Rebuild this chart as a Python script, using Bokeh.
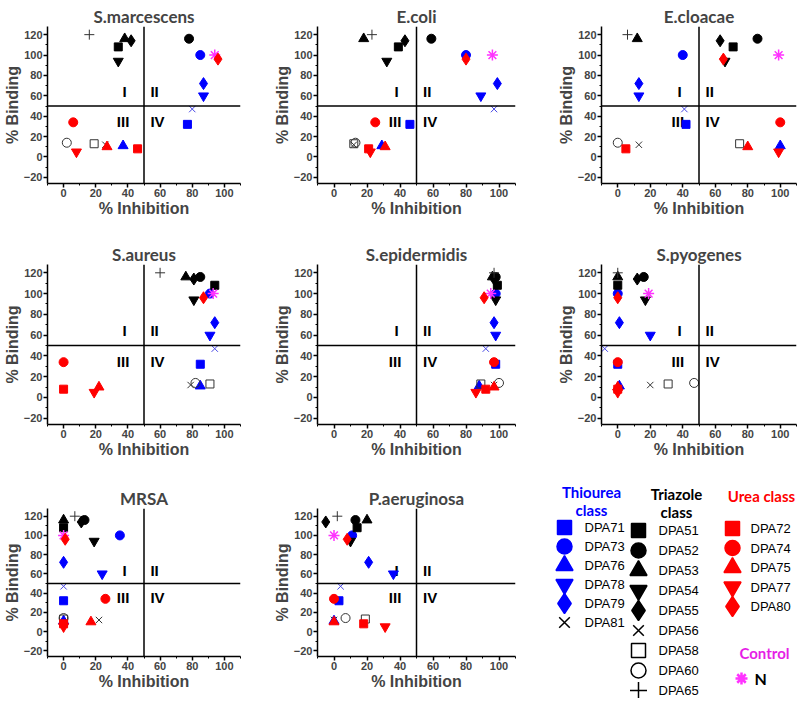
from bokeh.plotting import figure
from bokeh.layouts import row, column
from bokeh.models import Range1d, SingleIntervalTicker, Span, ColumnDataSource
from bokeh.core.properties import value
from bokeh.embed import file_html
from bokeh.resources import INLINE

# ---------------- data ----------------
panel_titles = ["S.marcescens", "E.coli", "E.cloacae", "S.aureus", "S.epidermidis",
                "S.pyogenes", "MRSA", "P.aeruginosa"]

compounds = ["DPA71", "DPA73", "DPA76", "DPA78", "DPA79", "DPA81",
             "DPA51", "DPA52", "DPA53", "DPA54", "DPA55", "DPA56", "DPA58", "DPA60", "DPA65",
             "DPA72", "DPA74", "DPA75", "DPA77", "DPA80",
             "N"]
compound_class = ["Thiourea"] * 6 + ["Triazole"] * 9 + ["Urea"] * 5 + ["Control"]

# % Binding of each compound
binding = [32, 100, 11, 60, 72, 47,
           108, 116, 116, 94, 114, 12, 13, 14, 120,
           8, 34, 10, 5, 96,
           100]

# % Inhibition of each compound, per organism
inhibition_s_marcescens = [77, 85, 37, 87, 87, 80, 34, 78, 38, 34, 42, 26, 19, 2, 16, 46, 6, 27, 8, 96, 94]
inhibition_e_coli = [46, 80, 29, 89, 99, 97, 39, 59, 18, 32, 43, 12, 12, 13, 23, 21, 25, 31, 22, 80, 96]
inhibition_e_cloacae = [42, 40, 100, 13, 13, 41, 71, 86, 12, 66, 63, 13, 75, 0, 6, 5, 100, 80, 99, 65, 99]
inhibition_s_aureus = [85, 91, 85, 91, 94, 94, 94, 85, 76, 81, 81, 79, 91, 82, 60, 0, 0, 22, 19, 87, 93]
inhibition_s_epidermidis = [98, 98, 88, 98, 97, 92, 99, 98, 96, 98, 97, 97, 89, 100, 97, 92, 97, 97, 86, 91, 95]
inhibition_s_pyogenes = [0, 0, 1, 20, 1, -8, 0, 16, 0, 17, 12, 20, 31, 47, 0, 0, 0, 0, 0, 0, 19]
inhibition_mrsa = [0, 35, 0, 24, 0, 0, 0, 13, 0, 19, 11, 22, 0, 0, 7, 0, 26, 17, 0, 1, 0]
inhibition_p_aeruginosa = [3, 11, 0, 36, 21, 4, 14, 13, 20, 10, -5, 0, 19, 7, 2, 18, 0, 0, 31, 8, 0]

inhibitions = [inhibition_s_marcescens, inhibition_e_coli, inhibition_e_cloacae,
               inhibition_s_aureus, inhibition_s_epidermidis, inhibition_s_pyogenes,
               inhibition_mrsa, inhibition_p_aeruginosa]

quadrant_labels = ["I", "II", "III", "IV"]
x_ticks_interval = 20
y_ticks_interval = 20

# ---------------- styles ----------------
BLUE = "#0000FF"
RED = "#FF0000"
BLACK = "#000000"
GRAY = "#333333"
MAG = "#FF33FF"

# marker, fill, line, line_width, size(panel), size(legend)
style = {
    "DPA71": ("square", BLUE, BLUE, 1, 8, 14),
    "DPA73": ("circle", BLUE, BLUE, 1, 9, 15),
    "DPA76": ("triangle", BLUE, BLUE, 1, 10, 17),
    "DPA78": ("inverted_triangle", BLUE, BLUE, 1, 10, 17),
    "DPA79": ("diamond", BLUE, BLUE, 1, 12, 20),
    "DPA81": ("x", None, "#4646E6", 1, 9, 15),
    "DPA51": ("square", BLACK, BLACK, 1, 8, 14),
    "DPA52": ("circle", BLACK, BLACK, 1, 9, 15),
    "DPA53": ("triangle", BLACK, BLACK, 1, 10, 17),
    "DPA54": ("inverted_triangle", BLACK, BLACK, 1, 10, 17),
    "DPA55": ("diamond", BLACK, BLACK, 1, 12, 20),
    "DPA56": ("x", None, GRAY, 1, 9, 15),
    "DPA58": ("square", None, GRAY, 1, 8, 14),
    "DPA60": ("circle", None, GRAY, 1, 9, 15),
    "DPA65": ("cross", None, GRAY, 1, 10, 17),
    "DPA72": ("square", RED, RED, 1, 8, 14),
    "DPA74": ("circle", RED, RED, 1, 9, 15),
    "DPA75": ("triangle", RED, RED, 1, 10, 17),
    "DPA77": ("inverted_triangle", RED, RED, 1, 10, 17),
    "DPA80": ("diamond", RED, RED, 1, 12, 20),
    "N": ("asterisk", None, MAG, 1.5, 11, 12),
}

draw_order = ["Thiourea", "Triazole", "Control", "Urea"]

AXFONT = "Liberation Sans"
TITLE_FONT = "Lato"

col_w = [270, 284, 244]
col_bl = [47, 47, 47]
col_br = [30, 39, 2]
row_h = [238, 244, 216]
row_bt = [26, 26, 26]
row_bb = [55, 58, 42]


def make_panel(i, title, xs):
    r, c = divmod(i, 3)
    p = figure(width=col_w[c], height=row_h[r],
               x_range=Range1d(-10, 110), y_range=Range1d(-26, 128),
               output_backend="svg", toolbar_location=None,
               min_border_left=col_bl[c], min_border_right=col_br[c],
               min_border_top=row_bt[r], min_border_bottom=row_bb[r],
               title=title)
    p.title.align = "center"
    p.title.text_font = TITLE_FONT
    p.title.text_font_size = "17px"
    p.title.text_font_style = "bold"
    p.title.standoff = 0
    p.outline_line_color = None
    p.grid.visible = False
    p.background_fill_color = "white"

    p.xaxis.ticker = SingleIntervalTicker(interval=x_ticks_interval, num_minor_ticks=2)
    p.yaxis.ticker = SingleIntervalTicker(interval=y_ticks_interval, num_minor_ticks=2)
    for ax in (p.xaxis[0], p.yaxis[0]):
        ax.axis_line_width = 1.5
        ax.major_tick_line_width = 1.5
        ax.minor_tick_line_width = 1
        ax.major_tick_in = 0
        ax.major_tick_out = 4
        ax.minor_tick_in = 0
        ax.minor_tick_out = 2
        ax.major_label_text_font = AXFONT
        ax.major_label_text_font_style = "bold"
        ax.major_label_text_font_size = "11px"
        ax.major_label_standoff = 1
        ax.axis_label_text_font = AXFONT
        ax.axis_label_text_font_style = "bold"
        ax.axis_label_text_font_size = "16px"
        ax.axis_label_standoff = 0
    p.xaxis.axis_label = "% Inhibition"
    p.yaxis.axis_label = "% Binding"

    p.add_layout(Span(location=50, dimension="height", line_color="black", line_width=1.5))
    p.add_layout(Span(location=50, dimension="width", line_color="black", line_width=1.5))

    p.text(x=[38, 37], y=[64, 35], text=[quadrant_labels[0], quadrant_labels[2]],
           text_align="center", text_baseline="middle",
           text_font=value("Liberation Sans"), text_font_style="bold", text_font_size="15px")
    p.text(x=[54, 54], y=[64, 35], text=[quadrant_labels[1], quadrant_labels[3]],
           text_align="left", text_baseline="middle",
           text_font=value("Liberation Sans"), text_font_style="bold", text_font_size="15px")

    data = dict(x=[], y=[], marker=[], fill=[], line=[], lw=[], size=[])
    for cls in draw_order:
        for k, name in enumerate(compounds):
            if compound_class[k] != cls:
                continue
            m, f, l, lw, s, _ = style[name]
            data["x"].append(xs[k])
            data["y"].append(binding[k])
            data["marker"].append(m)
            data["fill"].append(f if f else "rgba(0,0,0,0)")
            data["line"].append(l)
            data["lw"].append(lw)
            data["size"].append(s)
    src = ColumnDataSource(data)
    p.scatter(x="x", y="y", marker="marker", size="size", fill_color="fill",
              line_color="line", line_width="lw", source=src)
    return p


panels = [make_panel(i, t, xs) for i, (t, xs) in enumerate(zip(panel_titles, inhibitions))]

# ---------------- legend panel ----------------
LW, LH = col_w[2], row_h[2]
leg = figure(width=LW, height=LH, x_range=Range1d(0, LW), y_range=Range1d(LH, 0),
             output_backend="svg", toolbar_location=None,
             min_border_left=0, min_border_right=0, min_border_top=0, min_border_bottom=0,
             x_axis_location=None, y_axis_location=None)
leg.frame_align = False
leg.grid.visible = False
leg.outline_line_color = None

headers = [("Thiourea", 37, 9, BLUE), ("class", 37, 27, BLUE),
           ("Triazole", 122, 11, BLACK), ("class", 122, 29, BLACK),
           ("Urea class", 207, 13, RED), ("Control", 210, 170, "#E61EE6")]
for txt, hx, hy, col in headers:
    leg.text(x=[hx], y=[hy], text=[txt], text_align="center", text_baseline="middle",
             text_font=value(TITLE_FONT), text_font_style="bold", text_font_size="15px",
             text_color=col)

columns_cfg = {"Thiourea": (10, 30, 45, 19.0),
               "Triazole": (84, 104, 48, 20.0),
               "Urea": (178, 196, 46, 19.5)}
for cls, (mx, tx, y0, dy) in columns_cfg.items():
    names = [n for n, c in zip(compounds, compound_class) if c == cls]
    d = dict(x=[], y=[], marker=[], fill=[], line=[], lw=[], size=[], tx=[], label=[])
    for j, name in enumerate(names):
        m, f, l, lw, _, s = style[name]
        d["x"].append(mx)
        d["y"].append(y0 + j * dy)
        d["marker"].append(m)
        d["fill"].append(f if f else "rgba(0,0,0,0)")
        d["line"].append(l if f else BLACK)
        d["lw"].append(1.5)
        d["size"].append(s)
        d["tx"].append(tx)
        d["label"].append(name)
    s_ = ColumnDataSource(d)
    leg.scatter(x="x", y="y", marker="marker", size="size", fill_color="fill",
                line_color="line", line_width="lw", source=s_)
    leg.text(x="tx", y="y", text="label", text_align="left", text_baseline="middle",
             text_font=value("Liberation Sans"), text_font_size="13px", source=s_)

# control entry
ctrl = [n for n, c in zip(compounds, compound_class) if c == "Control"]
leg.scatter(x=[187], y=[196], marker="asterisk", size=12, line_color=MAG, line_width=2.5)
leg.text(x=[200], y=[196], text=ctrl, text_align="left", text_baseline="middle",
         text_font=value(TITLE_FONT), text_font_style="bold", text_font_size="16px")

layout = column(row(panels[0], panels[1], panels[2]),
                row(panels[3], panels[4], panels[5]),
                row(panels[6], panels[7], leg))

open("out.html", "w").write(file_html(layout, INLINE))
